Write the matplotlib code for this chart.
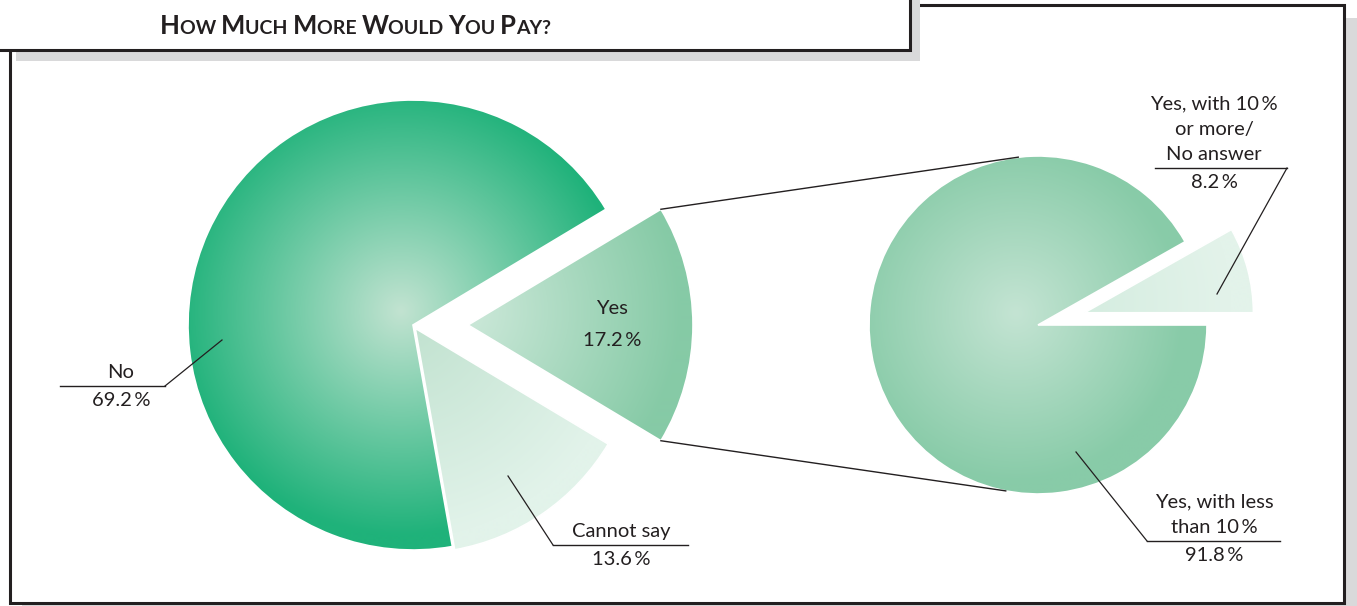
import numpy as np
import matplotlib.pyplot as plt
from matplotlib.colors import LinearSegmentedColormap
from matplotlib.patches import Rectangle

W, H = 1357, 606
INK = "#231f20"
SHADOW = "#d9d9da"

# main pie: share of respondents willing to pay more
main_labels = ["Yes", "No", "Cannot say"]
main_values = [17.2, 69.2, 13.6]

# breakdown of the "Yes" answers
sub_labels = ["Yes, with 10\u2009%\nor more/\nNo answer", "Yes, with less\nthan 10\u2009%"]
sub_values = [8.2, 91.8]

title_words = ["How", "Much", "More", "Would", "You", "Pay?"]

# (inner colour, outer colour) of the radial fill for each slice
main_colors = [("#d0eadc", "#86caa6"), ("#c2e3d1", "#1fb27a"), ("#bfe1ce", "#e2f3ea")]
sub_colors = [("#d3ecdf", "#e3f3ea"), ("#c4e4d3", "#88cba8")]

plt.rcParams["font.family"] = ["Lato", "DejaVu Sans"]

fig = plt.figure(figsize=(W / 100, H / 100), dpi=100)
ax = fig.add_axes([0, 0, 1, 1])


def Y(y):
    # layout positions are measured from the top edge
    return H - y


def pct(v):
    return f"{v:.1f}\u2009%"


# outer frame with drop shadow
ax.add_patch(Rectangle((22, Y(616)), W, 616 - 18, facecolor=SHADOW, edgecolor="none", zorder=0))
ax.add_patch(Rectangle((10, Y(603)), 1334, 598, facecolor="white", edgecolor=INK, lw=2.2, zorder=0.5))

# title box
ax.add_patch(Rectangle((16, Y(61)), 904, 61, facecolor=SHADOW, edgecolor="none", zorder=5))
ax.add_patch(Rectangle((-10, Y(50)), 920, 70, facecolor="white", edgecolor=INK, lw=2.2, zorder=6))


def radial_fill(wedge, c_in, c_out, off=(-12, 14)):
    cx, cy = wedge.center
    R = wedge.r
    gx, gy = cx + off[0], cy + off[1]
    xs = np.arange(cx - R - 4, cx + R + 4)
    ys = np.arange(cy - R - 4, cy + R + 4)
    XX, YY = np.meshgrid(xs, ys)
    t = np.clip(np.hypot(XX - gx, YY - gy) / R, 0, 1)
    cmap = LinearSegmentedColormap.from_list("g", [c_in, c_out])
    im = ax.imshow(cmap(t), extent=(xs[0], xs[-1], ys[0], ys[-1]), origin="lower",
                   interpolation="bilinear", zorder=2)
    im.set_clip_path(wedge)
    wedge.set_facecolor("none")
    wedge.set_edgecolor("white")
    wedge.set_linewidth(1.2)
    wedge.set_zorder(3)


# left pie
main_center = (413, Y(325))
main_r = 225
main_wedges, _ = ax.pie(main_values, startangle=-main_values[0] * 3.6 / 2,
                        explode=[55, 0, 4], center=main_center, radius=main_r,
                        frame=True)
for w, (ci, co) in zip(main_wedges, main_colors):
    radial_fill(w, ci, co)

# right pie
sub_center = (1038, Y(325))
sub_r = 169
sub_wedges, _ = ax.pie(sub_values, startangle=0, explode=[48, 0],
                       center=sub_center, radius=sub_r, frame=True)
for w, (ci, co) in zip(sub_wedges, sub_colors):
    radial_fill(w, ci, co, off=(-22, 12))

ax.set_xlim(0, W)
ax.set_ylim(0, H)
ax.set_aspect("equal")
ax.axis("off")

# connectors from the exploded "Yes" slice to the breakdown pie
yes = main_wedges[0]
for th, a in [(yes.theta2, 96.7), (yes.theta1, -101.0)]:
    x0 = yes.center[0] + yes.r * np.cos(np.radians(th))
    y0 = yes.center[1] + yes.r * np.sin(np.radians(th))
    x1 = sub_center[0] + sub_r * np.cos(np.radians(a))
    y1 = sub_center[1] + sub_r * np.sin(np.radians(a))
    ax.plot([x0, x1], [y0, y1], color=INK, lw=1.0, zorder=4)

# "Yes" label inside its slice
mid = np.radians((yes.theta1 + yes.theta2) / 2)
lx = yes.center[0] + 0.64 * yes.r * np.cos(mid)
ly = yes.center[1] + 0.64 * yes.r * np.sin(mid)
ax.text(lx, ly + 16, main_labels[0], ha="center", va="center", fontsize=14.5, color=INK, zorder=7)
ax.text(lx, ly - 16, pct(main_values[0]), ha="center", va="center", fontsize=14.5, color=INK, zorder=7)

# callout labels: text centre x, rule y, rule x-range, elbow x, target point
callouts = [
    (main_labels[1], main_values[1], 121, 386, (60, 165), 165, (222, 340)),
    (main_labels[2], main_values[2], 621, 545, (553, 688), 553, (508, 476)),
    (sub_labels[0], sub_values[0], 1214, 168, (1155, 1287), 1287, (1217, 294)),
    (sub_labels[1], sub_values[1], 1214, 541, (1147, 1280), 1147, (1076, 452)),
]
for label, value, tx, ry, (rx0, rx1), ex, (px, py) in callouts:
    ax.plot([rx0, rx1], [Y(ry), Y(ry)], color=INK, lw=1.0, zorder=7)
    ax.plot([ex, px], [Y(ry), Y(py)], color=INK, lw=0.9, zorder=7)
    ax.text(tx, Y(ry - 5), label, ha="center", va="bottom", fontsize=14.5, color=INK,
            linespacing=1.6, zorder=7)
    ax.text(tx, Y(ry + 6), pct(value), ha="center", va="top", fontsize=14.5, color=INK, zorder=7)

# small-caps title, built piece by piece
renderer = fig.canvas.get_renderer()
inv = ax.transData.inverted()
x = 160
base = Y(34)
for word in title_words:
    for piece, size in [(word[0], 18.5), (word[1:].upper() + " ", 14)]:
        t = ax.text(x, base, piece, ha="left", va="baseline", fontsize=size,
                    fontweight="bold", color=INK, zorder=8)
        bb = t.get_window_extent(renderer)
        x = inv.transform((bb.x1, bb.y0))[0]

fig.savefig("out.png", dpi=100)
